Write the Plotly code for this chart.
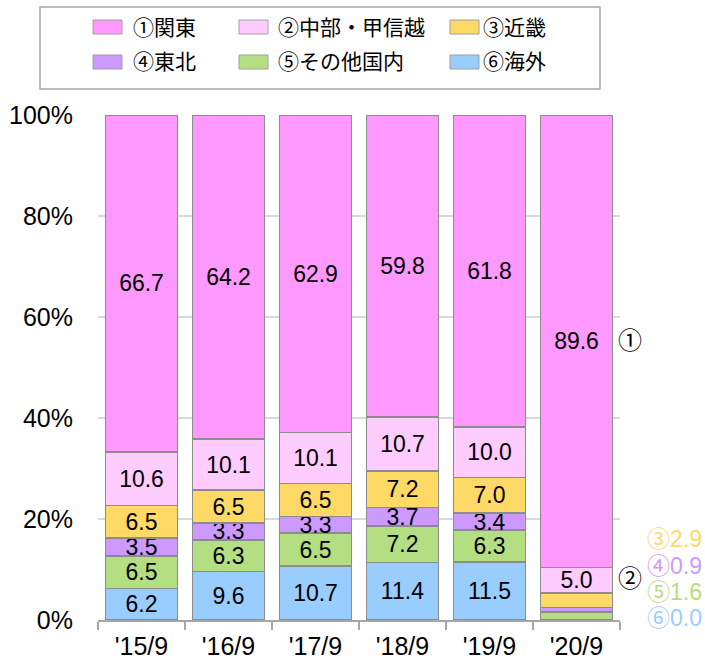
import plotly.graph_objects as go

categories = ["'15/9", "'16/9", "'17/9", "'18/9", "'19/9", "'20/9"]
kanto = [66.7, 64.2, 62.9, 59.8, 61.8, 89.6]
chubu = [10.6, 10.1, 10.1, 10.7, 10.0, 5.0]
kinki = [6.5, 6.5, 6.5, 7.2, 7.0, 2.9]
tohoku = [3.5, 3.3, 3.3, 3.7, 3.4, 0.9]
other = [6.5, 6.3, 6.5, 7.2, 6.3, 1.6]
overseas = [6.2, 9.6, 10.7, 11.4, 11.5, 0.0]

names = ["①関東", "②中部・甲信越", "③近畿", "④東北", "⑤その他国内", "⑥海外"]
colors = ["#FF99FF", "#FFCCFF", "#FFD966", "#CC99FF", "#B3DE81", "#99CCFF"]
series = [kanto, chubu, kinki, tohoku, other, overseas]

FONT = "Arial, 'Liberation Sans', 'Noto Sans CJK JP', sans-serif"
W, H = 705, 662
ML, MR, MT, MB = 98, 85, 115, 42
PW, PH = W - ML - MR, H - MT - MB


def px(x):
    return (x - ML) / PW


def py(y):
    return (H - MB - y) / PH


fig = go.Figure()
# stack from bottom (⑥) to top (①)
for name, col, vals in reversed(list(zip(names, colors, series))):
    texts = []
    for i, v in enumerate(vals):
        if i == len(vals) - 1 and v < 4:
            texts.append("")
        else:
            texts.append(f"{v:.1f}")
    fig.add_trace(go.Bar(
        x=categories, y=vals, name=name, showlegend=False,
        marker=dict(color=col, line=dict(color="#8c8c8c", width=1.6)),
        text=texts, texttemplate="%{text}", textposition="inside",
        insidetextanchor="middle", constraintext="none", textangle=0,
        textfont=dict(size=23, color="black", family=FONT),
        hoverinfo="skip",
    ))

shapes = []
ann = []

# legend box (manual)
shapes.append(dict(type="rect", xref="paper", yref="paper",
                   x0=px(40), x1=px(600), y0=py(89), y1=py(7),
                   line=dict(color="#a6a6a6", width=1.5), fillcolor="white"))
col_sw = [93, 239, 450]
col_tx = [131, 276, 481]
row_y = [27, 62]
for k, (name, col) in enumerate(zip(names, colors)):
    r, c = divmod(k, 3)
    yc = row_y[r]
    shapes.append(dict(type="rect", xref="paper", yref="paper",
                       x0=px(col_sw[c]), x1=px(col_sw[c] + 29),
                       y0=py(yc + 7), y1=py(yc - 7),
                       line=dict(color="#a0a0a0", width=1), fillcolor=col))
    ann.append(dict(x=px(col_tx[c]), xref="paper", xanchor="left",
                    y=py(yc), yref="paper", yanchor="middle",
                    text=name, showarrow=False,
                    font=dict(size=21, color="black", family=FONT)))

# right side annotations for last category
last = len(categories) - 1
ann.append(dict(x=px(630), xref="paper", xanchor="center", y=py(340), yref="paper",
                yanchor="middle", text=names[0][0], showarrow=False,
                font=dict(size=24, color="black", family=FONT)))
ann.append(dict(x=px(630), xref="paper", xanchor="center", y=py(578), yref="paper",
                yanchor="middle", text=names[1][0], showarrow=False,
                font=dict(size=24, color="black", family=FONT)))
small = [(names[2][0], kinki[last], colors[2], 539),
         (names[3][0], tohoku[last], colors[3], 566),
         (names[4][0], other[last], colors[4], 592),
         (names[5][0], overseas[last], colors[5], 618)]
for mark, v, c, yy in small:
    ann.append(dict(x=px(704), xref="paper", xanchor="right", y=py(yy), yref="paper",
                    yanchor="middle", text=f"{mark}{v:.1f}", showarrow=False,
                    font=dict(size=23, color=c, family=FONT)))

fig.update_layout(
    barmode="stack",
    bargap=0.17,
    width=W, height=H,
    margin=dict(l=ML, r=MR, t=MT, b=MB, autoexpand=False),
    plot_bgcolor="white", paper_bgcolor="white",
    font=dict(family=FONT, size=25, color="black"),
    showlegend=False,
    shapes=shapes,
    annotations=ann,
    xaxis=dict(
        showline=True, linecolor="#a6a6a6", linewidth=1.5,
        ticks="outside", tickson="boundaries", ticklen=8, tickcolor="#a6a6a6",
        tickwidth=1.5, tickfont=dict(size=25), showgrid=False,
        ticklabelstandoff=3,
    ),
    yaxis=dict(
        range=[0, 100], tickvals=[0, 20, 40, 60, 80, 100],
        ticktext=["0%", "20%", "40%", "60%", "80%", "100%"],
        showgrid=True, gridcolor="#d9d9d9", gridwidth=1.5,
        zeroline=False, showline=False, ticks="",
        ticklabelstandoff=24, tickfont=dict(size=25),
    ),
)

fig.write_html("out.html", config={"displayModeBar": False},
               post_script="document.body.style.margin='0px';")
